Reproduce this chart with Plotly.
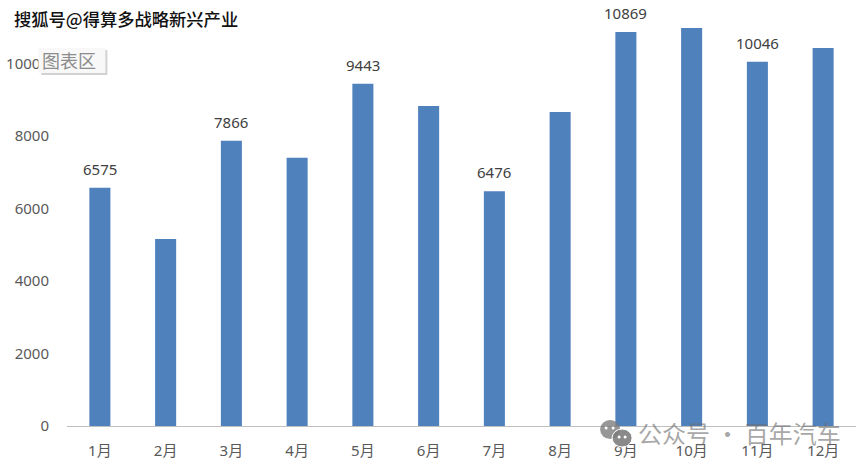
import plotly.graph_objects as go

months = ["1月", "2月", "3月", "4月", "5月", "6月", "7月", "8月", "9月", "10月", "11月", "12月"]
values = [6575, 5160, 7866, 7400, 9443, 8830, 6476, 8665, 10869, 10980, 10046, 10430]
labelled = ["1月", "3月", "5月", "7月", "9月", "11月"]
y_ticks = [0, 2000, 4000, 6000, 8000, 10000]
y_tick_text = ["0", "2000", "4000", "6000", "8000", "10000"]

FONT = "Noto Sans, Noto Sans CJK SC, sans-serif"
CJK = "Noto Sans CJK SC, sans-serif"
W, H = 866, 468
L, R, T, B = 66.6, 10, 0, 42


def px(x):
    return (x - L) / (W - L - R)


def py(y):
    return 1 - (y - T) / (H - T - B)


fig = go.Figure(go.Bar(x=months, y=values, marker=dict(color="#4F81BD", line_width=0), width=0.32))

annotations = [
    dict(x=m, y=v, xref="x", yref="y", text=str(v), showarrow=False, yanchor="bottom", yshift=7,
         font=dict(size=15, color="#404040", family=FONT))
    for m, v in zip(months, values) if m in labelled
]
annotations += [
    dict(x=px(12), y=py(19), xref="paper", yref="paper", xanchor="left", yanchor="middle", showarrow=False,
         text="搜狐号@得算多战略新兴产业", font=dict(size=17.3, color="#111111", family=CJK, weight=500,
                                     shadow="1px 1px 1px #ffffff")),
    dict(x=px(40), y=py(60), xref="paper", yref="paper", xanchor="left", yanchor="middle", showarrow=False,
         text="图表区", font=dict(size=18, color="#8C8C8C", family=CJK)),
    dict(x=px(636), y=py(433), xref="paper", yref="paper", xanchor="left", yanchor="middle", showarrow=False,
         text="公众号 · 百年汽车", font=dict(size=24, color="rgba(110,110,110,0.62)", family=CJK)),
]

shapes = [
    dict(type="rect", xref="paper", yref="paper", x0=px(41), x1=px(107), y0=py(75), y1=py(50),
         fillcolor="#D2D2D2", line_width=0, layer="above"),
    dict(type="rect", xref="paper", yref="paper", x0=px(38), x1=px(105), y0=py(73), y1=py(48),
         fillcolor="#F8F8F8", line_width=0, layer="above"),
    dict(type="circle", xref="paper", yref="paper", x0=px(600), x1=px(620), y0=py(439), y1=py(420),
         fillcolor="rgba(125,125,125,0.8)", line_width=0, layer="above"),
    dict(type="circle", xref="paper", yref="paper", x0=px(612), x1=px(632), y0=py(447), y1=py(429),
         fillcolor="rgba(125,125,125,0.9)", line=dict(color="white", width=1), layer="above"),
]
for cx, cy in [(606, 428), (613, 428), (619, 437), (625, 437)]:
    shapes.append(dict(type="circle", xref="paper", yref="paper", x0=px(cx - 1.5), x1=px(cx + 1.5),
                       y0=py(cy + 1.5), y1=py(cy - 1.5), fillcolor="white", line_width=0, layer="above"))

fig.update_layout(
    width=W, height=H, autosize=False, showlegend=False,
    paper_bgcolor="white", plot_bgcolor="white",
    margin=dict(l=L, r=R, t=T, b=B, pad=0),
    annotations=annotations, shapes=shapes,
    xaxis=dict(type="category", categoryorder="array", categoryarray=months, showgrid=False,
               showline=True, linecolor="#BFBFBF", linewidth=1, ticks="", ticklabelstandoff=11,
               tickfont=dict(size=15, color="#595959", family=FONT)),
    yaxis=dict(range=[0, 11752], tickmode="array", tickvals=y_ticks, ticktext=y_tick_text,
               showgrid=False, zeroline=False, showline=False, ticks="", ticklabelstandoff=17,
               tickfont=dict(size=15, color="#595959", family=FONT)),
)

fig.write_html("out.html", config={"displayModeBar": False},
               post_script="document.body.style.margin='0';")
